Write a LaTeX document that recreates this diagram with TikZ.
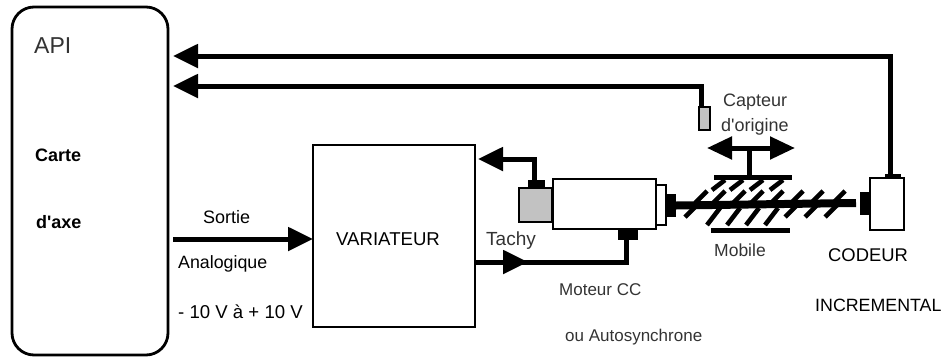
\documentclass[tikz,border=0pt]{standalone}
\usepackage{fontspec}
\setmainfont{Liberation Sans}
\newfontfamily\plainf{Liberation Sans}
\usetikzlibrary{arrows.meta}
\newcommand{\bx}[6]{\node[#2,minimum width={(#5-#3)*1pt},minimum height={(#6-#4)*1pt}] (#1) at ({(#3+#5)/2},{(#4+#6)/2}) {};}
\newcommand{\fs}[1]{\fontsize{#1}{#1}\selectfont}
\tikzset{
  frame/.style={draw=black,line width=2.8pt,fill=white,inner sep=0pt,outer sep=0pt},
  solidblk/.style={draw=none,fill=black,inner sep=0pt,outer sep=0pt},
  stipple/.style={frame,fill=black!24},
  wire/.style={draw=black,line width=5pt},
  wirearrow/.style={wire,-{Triangle[length=25pt,width=23pt]}},
  thread/.style={draw=black,line width=4.6pt},
  lbl/.style={anchor=west,inner sep=0pt,text=black},
  soft/.style={lbl,text=black!80},
}
\begin{document}
\begin{tikzpicture}[x=1pt,y=-1pt]
\useasboundingbox (0,0) rectangle (946,357);
% boxes
\bx{api}{frame,rounded corners=22pt}{12}{7}{168}{355}
\bx{var}{frame}{313}{145}{475}{327}
\bx{motor}{frame}{553}{179}{656}{229}
\bx{tach}{stipple}{519}{188}{552}{222}
\bx{flange}{frame}{656}{185}{666}{225}
\bx{coupl}{solidblk}{666}{194}{676}{217}
\bx{tachtab}{solidblk}{528}{180}{545}{187}
\bx{mottab}{solidblk}{618}{229}{638}{240}
\bx{coder}{frame}{870}{178}{904}{230}
\bx{codblock}{solidblk}{860}{192}{870}{215}
\bx{codtab}{solidblk}{885}{174}{901}{178}
\bx{sensor}{stipple}{699}{107}{710}{130}
\bx{nuttop}{solidblk}{714}{175}{792}{179.5}
\bx{nutbot}{solidblk}{711}{228}{790}{232.5}
% free ends of the connectors
\coordinate (a1) at (173,56);
\coordinate (a2) at (173,86);
\coordinate (a3) at (478,159);
\coordinate (s0) at (173,239);
\coordinate (s1) at (313,239);
\coordinate (t1) at (475,262);
\coordinate (t2) at (528,262);
\coordinate (dl) at (707,148);
\coordinate (dr) at (795,148);
\coordinate (dm) at (749,148);
% connectors
\draw[wirearrow] ([xshift=-3pt]codtab.north) -- ++(0,-118) -- (a1);
\draw[wirearrow] ([xshift=-3.5pt]sensor.north) -- (701,86) -- (a2);
\draw[wirearrow] (s0) -- (s1);
\draw[wirearrow] ([xshift=-2.5pt]tachtab.north) -- (534,159) -- (a3);
\draw[wire] ([xshift=-2pt]mottab.south) |- (t1);
\draw[wirearrow] (t1) -- (t2);
\draw[wire,{Triangle[length=25pt,width=22pt]}-{Triangle[length=25pt,width=22pt]}] (dl) -- (dr);
\draw[wire] (dm) -- (nuttop.north -| dm);
% screw shaft
\draw[draw=black,line width=8pt] (coupl.east) -- (856,203);
% threads above the shaft
\foreach \x in {707,725,745,763,783,803,823,845}
  \draw[thread] (\x,191) -- (\x-12,203);
% threads below the shaft
\foreach \x in {697,797,817,837}
  \draw[thread] (\x,205) -- (\x-12,217);
\foreach \x in {720,740,759,778}
  \draw[thread] (\x,208) -- (\x-13,225);
% threads of the nut
\foreach \x in {725,743,763,783}
  \draw[thread] (\x,180) -- (\x-13,190);
% labels
\node[soft,font=\fs{23}] (tapi) at (34,46) {API};
\node[lbl,font=\fs{18}\bfseries] (t1a) at (35,155) {Carte};
\node[lbl,font=\plainf\fs{18}\bfseries] (t1b) at (36,222) {d'axe};
\node[lbl,font=\fs{18}] (t2a) at (203,217) {Sortie};
\node[lbl,font=\fs{17.8}] (t2b) at (178,264) {Analogique};
\node[lbl,font=\fs{18.6}] (t2c) at (178,312) {- 10 V à + 10 V};
\node[lbl,font=\fs{18.6}] (t3) at (336,239) {VARIATEUR};
\node[soft,font=\fs{19}] (t4) at (486,241) {Tachy};
\node[soft,font=\fs{17}] (t5) at (559,290) {Moteur CC};
\node[soft,font=\fs{17}] (t6) at (565,337) {ou Autosynchrone};
\node[soft,font=\fs{18}] (t7) at (723,102) {Capteur};
\node[soft,font=\plainf\fs{18}] (t8) at (721,127) {d'origine};
\node[soft,font=\fs{17.5}] (t9) at (714,250) {Mobile};
\node[lbl,font=\fs{18.4}] (t10) at (828,255) {CODEUR};
\node[lbl,font=\fs{17.8}] (t11) at (815,305) {INCREMENTAL};
\end{tikzpicture}
\end{document}
